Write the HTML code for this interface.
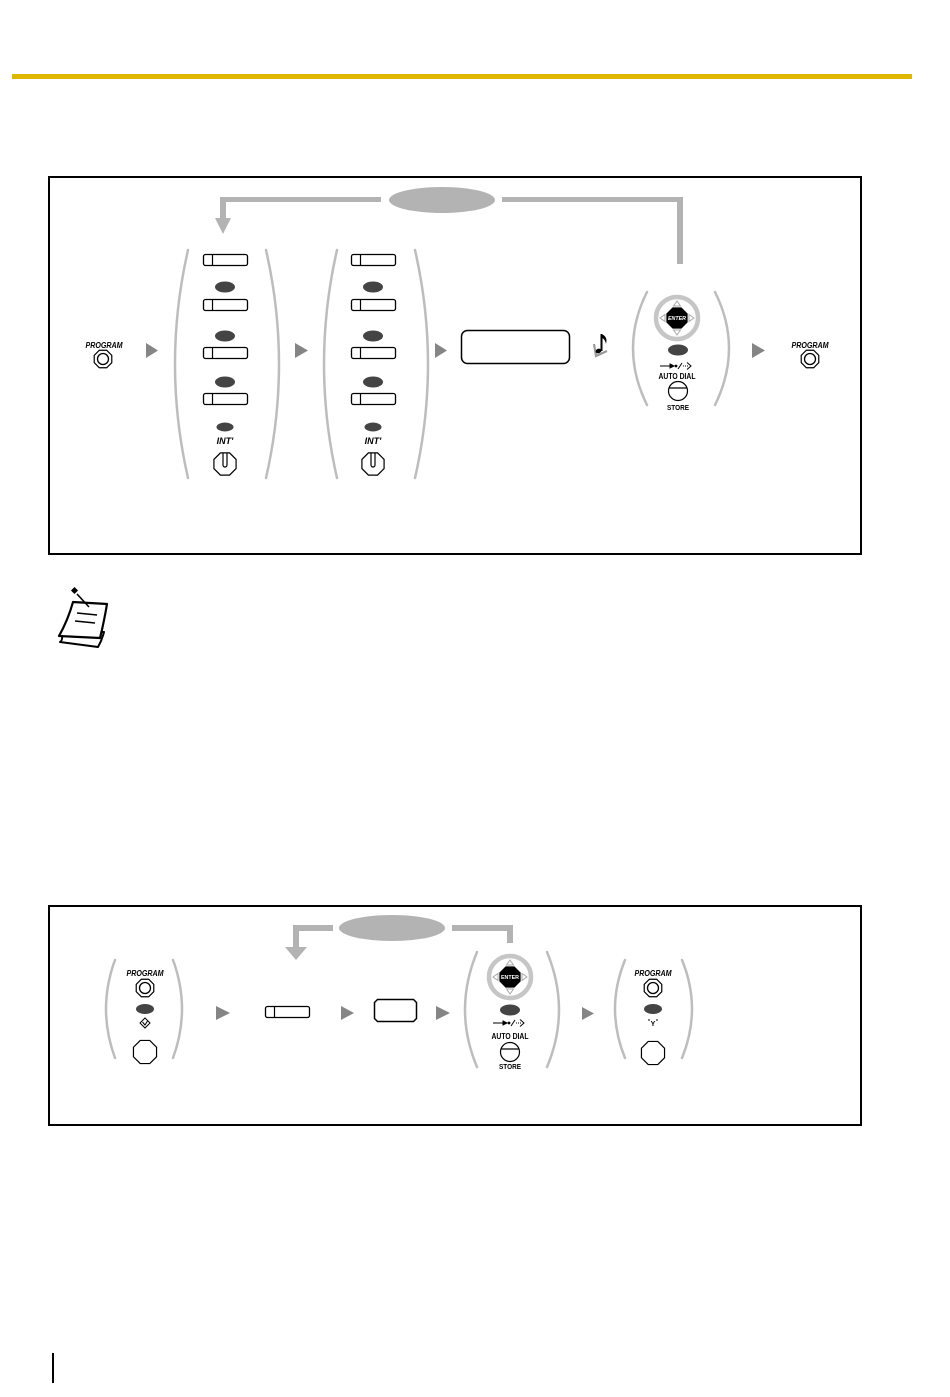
<!DOCTYPE html>
<html><head><meta charset="utf-8"><style>
html,body{margin:0;padding:0;background:#fff;}
svg{display:block;}
text{font-family:"Liberation Sans",sans-serif;}
</style></head><body>
<svg width="950" height="1397" viewBox="0 0 950 1397" xmlns="http://www.w3.org/2000/svg">
<rect x="0" y="0" width="950" height="1397" fill="#fff"/>
<!-- yellow header bar -->
<rect x="12" y="74" width="900" height="5" fill="#dfb700"/>

<!-- ============ TOP BOX ============ -->
<rect x="49" y="177" width="812" height="377" fill="none" stroke="#000" stroke-width="2"/>

<!-- feedback loop -->
<g fill="#b3b3b3">
<rect x="220" y="197" width="161" height="5"/>
<rect x="220" y="197" width="6" height="22"/>
<polygon points="215,218 231,218 223,234"/>
<ellipse cx="442" cy="200" rx="53" ry="13"/>
<rect x="502" y="197" width="181" height="5"/>
<rect x="677" y="197" width="6" height="67"/>
</g>

<!-- left PROGRAM -->
<text x="104" y="348" font-size="8" font-weight="bold" font-style="italic" text-anchor="middle" textLength="37" lengthAdjust="spacingAndGlyphs">PROGRAM</text>
<polygon points="9.24,3.83 3.83,9.24 -3.83,9.24 -9.24,3.83 -9.24,-3.83 -3.83,-9.24 3.83,-9.24 9.24,-3.83" transform="translate(103,359) scale(0.95)" fill="#fff" stroke="#000" stroke-width="1.2" vector-effect="non-scaling-stroke"/>
<circle cx="103" cy="359" r="5.5" fill="none" stroke="#000" stroke-width="1.3"/>

<!-- arrows -->
<g fill="#858585">
<polygon points="146,343 146,358 158,350.5"/>
<polygon points="295,343 295,358 308,350.5"/>
<polygon points="435,343 435,358 447,350.5"/>
<polygon points="752,343 752,358 765,350.5"/>
</g>

<!-- group 1 -->
<g fill="none" stroke="#bdbdbd" stroke-width="2.5" stroke-linecap="round">
<path d="M188,250 Q162,364 188,478"/>
<path d="M266,250 Q292,364 266,478"/>
<path d="M337,250 Q311,364 337,478"/>
<path d="M415,250 Q441,364 415,478"/>
</g>
<g fill="#fff" stroke="#000" stroke-width="1.3">
<rect x="203.5" y="254.5" width="44" height="11" rx="2"/>
<rect x="203.5" y="299.5" width="44" height="11" rx="2"/>
<rect x="203.5" y="347.5" width="44" height="11" rx="2"/>
<rect x="203.5" y="393.5" width="44" height="11" rx="2"/>
<rect x="351.5" y="254.5" width="44" height="11" rx="2"/>
<rect x="351.5" y="299.5" width="44" height="11" rx="2"/>
<rect x="351.5" y="347.5" width="44" height="11" rx="2"/>
<rect x="351.5" y="393.5" width="44" height="11" rx="2"/>
</g>
<g stroke="#000" stroke-width="1.2">
<line x1="212.5" y1="255" x2="212.5" y2="265"/>
<line x1="212.5" y1="300" x2="212.5" y2="310"/>
<line x1="212.5" y1="348" x2="212.5" y2="358"/>
<line x1="212.5" y1="394" x2="212.5" y2="404"/>
<line x1="360.5" y1="255" x2="360.5" y2="265"/>
<line x1="360.5" y1="300" x2="360.5" y2="310"/>
<line x1="360.5" y1="348" x2="360.5" y2="358"/>
<line x1="360.5" y1="394" x2="360.5" y2="404"/>
</g>
<g fill="#444">
<ellipse cx="225" cy="287" rx="10" ry="5.5"/>
<ellipse cx="225" cy="336" rx="10" ry="5.5"/>
<ellipse cx="225" cy="382" rx="10" ry="5.5"/>
<ellipse cx="225" cy="427" rx="8.5" ry="4.5"/>
<ellipse cx="373" cy="287" rx="10" ry="5.5"/>
<ellipse cx="373" cy="336" rx="10" ry="5.5"/>
<ellipse cx="373" cy="382" rx="10" ry="5.5"/>
<ellipse cx="373" cy="427" rx="8.5" ry="4.5"/>
</g>
<text x="225" y="444" font-size="9" font-weight="bold" font-style="italic" text-anchor="middle">INT'</text>
<text x="373" y="444" font-size="9" font-weight="bold" font-style="italic" text-anchor="middle">INT'</text>
<g fill="#fff" stroke="#000" stroke-width="1.2">
<polygon points="9.24,3.83 3.83,9.24 -3.83,9.24 -9.24,3.83 -9.24,-3.83 -3.83,-9.24 3.83,-9.24 9.24,-3.83" transform="translate(225,464) scale(1.2)" vector-effect="non-scaling-stroke"/>
<polygon points="9.24,3.83 3.83,9.24 -3.83,9.24 -9.24,3.83 -9.24,-3.83 -3.83,-9.24 3.83,-9.24 9.24,-3.83" transform="translate(373,464) scale(1.2)" vector-effect="non-scaling-stroke"/>
<path d="M223,453 L223,465 A2,2 0 0 0 227,465 L227,453" fill="none"/>
<path d="M371,453 L371,465 A2,2 0 0 0 375,465 L375,453" fill="none"/>
</g>

<!-- display box -->
<rect x="461.5" y="330.5" width="108" height="33" rx="6" fill="#fff" stroke="#000" stroke-width="1.5"/>

<!-- music note with check -->
<path d="M594,344 L596,356 L607,351" fill="none" stroke="#999" stroke-width="2.2"/>
<g fill="#000">
<rect x="600.5" y="334" width="2" height="17"/>
<path d="M601,334 Q608,336 606,344 Q605,339 602,338 Z"/>
<ellipse cx="598.5" cy="351" rx="3" ry="2.2" transform="rotate(-20 598.5 351)"/>
</g>

<!-- top nav group -->
<g fill="none" stroke="#bdbdbd" stroke-width="2.5" stroke-linecap="round">
<path d="M647,292 Q619,348 647,405"/>
<path d="M715,292 Q743,348 715,405"/>
</g>
<g transform="translate(677,318)">
<circle r="21" fill="#fff" stroke="#c6c6c6" stroke-width="4.5"/>
<g fill="none" stroke="#a8a8a8" stroke-width="1">
<polygon points="0,-17 -3.5,-12 3.5,-12"/>
<polygon points="0,17 -3.5,12 3.5,12"/>
<polygon points="-17,0 -12,-3.5 -12,3.5"/>
<polygon points="17,0 12,-3.5 12,3.5"/>
</g>
<polygon points="9.24,3.83 3.83,9.24 -3.83,9.24 -9.24,3.83 -9.24,-3.83 -3.83,-9.24 3.83,-9.24 9.24,-3.83" transform="scale(1.15)" fill="#000"/>
<text x="0" y="2" font-size="5.5" font-weight="bold" font-style="italic" fill="#fff" text-anchor="middle" textLength="18" lengthAdjust="spacingAndGlyphs">ENTER</text>
</g>
<ellipse cx="678" cy="350" rx="10" ry="5.5" fill="#444"/>
<g stroke="#000" stroke-width="1" fill="none">
<line x1="660" y1="366" x2="671" y2="366"/>
<polygon points="670,364 674,366 670,368" fill="#000"/>
<circle cx="676" cy="366" r="0.9" fill="#000"/>
<line x1="678" y1="369" x2="682" y2="363"/>
<line x1="683" y1="366" x2="688" y2="366" stroke-dasharray="1,1"/>
<path d="M687,362.5 L691,366 L687,369.5"/>
</g>
<text x="677" y="379" font-size="8" font-weight="bold" text-anchor="middle" textLength="37" lengthAdjust="spacingAndGlyphs">AUTO DIAL</text>
<circle cx="678" cy="391" r="9.5" fill="#fff" stroke="#000" stroke-width="1.2"/>
<line x1="669.5" y1="388" x2="686.5" y2="388" stroke="#000" stroke-width="1.2"/>
<text x="678" y="410" font-size="7" font-weight="bold" text-anchor="middle" textLength="22" lengthAdjust="spacingAndGlyphs">STORE</text>

<!-- right PROGRAM -->
<text x="810" y="348" font-size="8" font-weight="bold" font-style="italic" text-anchor="middle" textLength="37" lengthAdjust="spacingAndGlyphs">PROGRAM</text>
<polygon points="9.24,3.83 3.83,9.24 -3.83,9.24 -9.24,3.83 -9.24,-3.83 -3.83,-9.24 3.83,-9.24 9.24,-3.83" transform="translate(810,359) scale(0.95)" fill="#fff" stroke="#000" stroke-width="1.2" vector-effect="non-scaling-stroke"/>
<circle cx="810" cy="359" r="5.5" fill="none" stroke="#000" stroke-width="1.3"/>

<!-- ============ NOTE ICON ============ -->
<g stroke="#000" fill="#fff" stroke-linejoin="round">
<path d="M62,631 Q63,641 60,642 L98,647 Q102,640 104,632 Z" stroke-width="2"/>
<path d="M73,602 L107,604 Q104,622 100,638 L59,636 Q68,620 73,602 Z" stroke-width="2.2"/>
<line x1="77" y1="613" x2="97" y2="615" stroke-width="1.6"/>
<line x1="75" y1="621" x2="95" y2="623" stroke-width="1.6"/>
<line x1="77" y1="594" x2="89" y2="607" stroke-width="1.6"/>
<rect x="72" y="588" width="5" height="5" fill="#000" stroke="none" transform="rotate(45 74.5 590.5)"/>
</g>

<!-- ============ BOTTOM BOX ============ -->
<rect x="49" y="906" width="812" height="219" fill="none" stroke="#000" stroke-width="2"/>

<g fill="#b3b3b3">
<ellipse cx="392" cy="928" rx="53" ry="13"/>
<rect x="293" y="925" width="40" height="6"/>
<rect x="293" y="925" width="6" height="23"/>
<polygon points="285,947 307,947 296,960"/>
<rect x="452" y="925" width="61" height="6"/>
<rect x="507" y="925" width="6" height="18"/>
</g>

<!-- bottom group 1 -->
<g fill="none" stroke="#bdbdbd" stroke-width="2.5" stroke-linecap="round">
<path d="M115,960 Q97,1009 115,1058"/>
<path d="M173,960 Q191,1009 173,1058"/>
<path d="M477,952 Q453,1010 477,1067"/>
<path d="M547,952 Q571,1010 547,1067"/>
<path d="M625,960 Q605,1009 625,1058"/>
<path d="M682,960 Q702,1009 682,1058"/>
</g>
<text x="145" y="976" font-size="8" font-weight="bold" font-style="italic" text-anchor="middle" textLength="37" lengthAdjust="spacingAndGlyphs">PROGRAM</text>
<polygon points="9.24,3.83 3.83,9.24 -3.83,9.24 -9.24,3.83 -9.24,-3.83 -3.83,-9.24 3.83,-9.24 9.24,-3.83" transform="translate(145,988) scale(0.95)" fill="#fff" stroke="#000" stroke-width="1.2" vector-effect="non-scaling-stroke"/>
<circle cx="145" cy="988" r="5.5" fill="none" stroke="#000" stroke-width="1.3"/>
<ellipse cx="145" cy="1009" rx="9" ry="5" fill="#444"/>
<polygon points="145,1018 150,1023 145,1028 140,1023" fill="#fff" stroke="#000" stroke-width="1"/>
<path d="M142.5,1022 L145,1025 L147.5,1021" fill="none" stroke="#000" stroke-width="1"/>
<polygon points="9.24,3.83 3.83,9.24 -3.83,9.24 -9.24,3.83 -9.24,-3.83 -3.83,-9.24 3.83,-9.24 9.24,-3.83" transform="translate(145,1052) scale(1.25)" fill="#fff" stroke="#000" stroke-width="1.2" vector-effect="non-scaling-stroke"/>

<g fill="#858585">
<polygon points="216,1006 216,1020 230,1013"/>
<polygon points="341,1006 341,1020 354,1013"/>
<polygon points="436,1006 436,1020 450,1013"/>
<polygon points="582,1007 582,1020 594,1013.5"/>
</g>

<rect x="265.5" y="1006.5" width="44" height="11" rx="2" fill="#fff" stroke="#000" stroke-width="1.3"/>
<line x1="274.5" y1="1007" x2="274.5" y2="1017" stroke="#000" stroke-width="1.2"/>
<polygon points="377.5,999.5 413.5,999.5 416.5,1002.5 416.5,1018.5 413.5,1021.5 377.5,1021.5 374.5,1018.5 374.5,1002.5" fill="#fff" stroke="#000" stroke-width="1.5"/>

<!-- bottom nav -->
<g transform="translate(510,977)">
<circle r="21" fill="#fff" stroke="#c6c6c6" stroke-width="4.5"/>
<g fill="none" stroke="#a8a8a8" stroke-width="1">
<polygon points="0,-17 -3.5,-12 3.5,-12"/>
<polygon points="0,17 -3.5,12 3.5,12"/>
<polygon points="-17,0 -12,-3.5 -12,3.5"/>
<polygon points="17,0 12,-3.5 12,3.5"/>
</g>
<polygon points="9.24,3.83 3.83,9.24 -3.83,9.24 -9.24,3.83 -9.24,-3.83 -3.83,-9.24 3.83,-9.24 9.24,-3.83" transform="scale(1.15)" fill="#000"/>
<text x="0" y="2" font-size="5.5" font-weight="bold" fill="#fff" text-anchor="middle" textLength="18" lengthAdjust="spacingAndGlyphs">ENTER</text>
</g>
<ellipse cx="510" cy="1010" rx="10" ry="5.5" fill="#444"/>
<g stroke="#000" stroke-width="1" fill="none">
<line x1="493" y1="1023" x2="504" y2="1023"/>
<polygon points="503,1021 507,1023 503,1025" fill="#000"/>
<circle cx="509" cy="1023" r="0.9" fill="#000"/>
<line x1="511" y1="1026" x2="515" y2="1020"/>
<line x1="516" y1="1023" x2="521" y2="1023" stroke-dasharray="1,1"/>
<path d="M520,1019.5 L524,1023 L520,1026.5"/>
</g>
<text x="510" y="1039" font-size="8" font-weight="bold" text-anchor="middle" textLength="37" lengthAdjust="spacingAndGlyphs">AUTO DIAL</text>
<circle cx="510" cy="1052" r="9.5" fill="#fff" stroke="#000" stroke-width="1.2"/>
<line x1="501.5" y1="1049" x2="518.5" y2="1049" stroke="#000" stroke-width="1.2"/>
<text x="510" y="1069" font-size="7" font-weight="bold" text-anchor="middle" textLength="22" lengthAdjust="spacingAndGlyphs">STORE</text>

<!-- bottom right group -->
<text x="653" y="976" font-size="8" font-weight="bold" font-style="italic" text-anchor="middle" textLength="37" lengthAdjust="spacingAndGlyphs">PROGRAM</text>
<polygon points="9.24,3.83 3.83,9.24 -3.83,9.24 -9.24,3.83 -9.24,-3.83 -3.83,-9.24 3.83,-9.24 9.24,-3.83" transform="translate(653,988) scale(0.95)" fill="#fff" stroke="#000" stroke-width="1.2" vector-effect="non-scaling-stroke"/>
<circle cx="653" cy="988" r="5.5" fill="none" stroke="#000" stroke-width="1.3"/>
<ellipse cx="653" cy="1009" rx="9" ry="5" fill="#444"/>
<text x="653" y="1026" font-size="7" font-weight="bold" text-anchor="middle">Y</text>
<line x1="648" y1="1020" x2="650" y2="1020" stroke="#000" stroke-width="1"/>
<line x1="656" y1="1020" x2="658" y2="1020" stroke="#000" stroke-width="1"/>
<polygon points="9.24,3.83 3.83,9.24 -3.83,9.24 -9.24,3.83 -9.24,-3.83 -3.83,-9.24 3.83,-9.24 9.24,-3.83" transform="translate(653,1053) scale(1.25)" fill="#fff" stroke="#000" stroke-width="1.2" vector-effect="non-scaling-stroke"/>

<!-- bottom-left margin line -->
<rect x="52" y="1353" width="2" height="30" fill="#000"/>
</svg>
</body></html>
